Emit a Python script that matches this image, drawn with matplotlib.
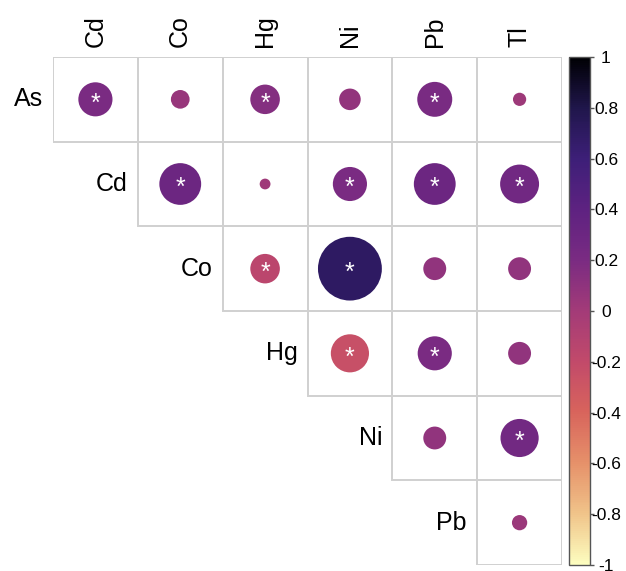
import numpy as np
import matplotlib
matplotlib.use("Agg")
import matplotlib.pyplot as plt
from matplotlib.patches import Circle, Rectangle
from matplotlib.colors import Normalize, LinearSegmentedColormap
from matplotlib.cm import ScalarMappable

plt.rcParams["font.family"] = ["Liberation Sans", "DejaVu Sans"]

# ── data ─────────────────────────────────────────────────────────────────────
row_labels = ["As", "Cd", "Co", "Hg", "Ni", "Pb"]
col_labels = ["Cd", "Co", "Hg", "Ni", "Pb", "Tl"]

# upper triangle, row i holds columns i..5
r_as = [0.20, 0.06, 0.15, 0.08, 0.21, 0.03]
r_cd = [0.30, 0.02, 0.20, 0.30, 0.26]
r_co = [-0.15, 0.70, 0.09, 0.09]
r_hg = [-0.25, 0.20, 0.09]
r_ni = [0.09, 0.25]
r_pb = [0.04]

sig_as = [1, 0, 1, 0, 1, 0]
sig_cd = [1, 0, 1, 1, 1]
sig_co = [1, 1, 0, 0]
sig_hg = [1, 1, 0]
sig_ni = [0, 1]
sig_pb = [0]

rows = [r_as, r_cd, r_co, r_hg, r_ni, r_pb]
sigs = [sig_as, sig_cd, sig_co, sig_hg, sig_ni, sig_pb]

cbar_ticks = [1, 0.8, 0.6, 0.4, 0.2, 0, -0.2, -0.4, -0.6, -0.8, -1]
cbar_tick_labels = ["1", "0.8", "0.6", "0.4", "0.2", "0", "-0.2", "-0.4", "-0.6", "-0.8", "-1"]

# muted magma, light at -1 and black at +1
palette = ["#fcfdbf", "#f0c389", "#e6916a", "#d8645c", "#c24a6a", "#a33b78",
           "#7a2b82", "#5e2281", "#3d1f78", "#20164c", "#000004"]

# ── figure ───────────────────────────────────────────────────────────────────
W, H = 626, 571
fig = plt.figure(figsize=(W / 100, H / 100), dpi=100)
ax = fig.add_axes([53 / W, 1 - 565 / H, 509 / W, 508 / H])
ax.set_xlim(0, 6)
ax.set_ylim(6, 0)
ax.axis("off")

cmap = LinearSegmentedColormap.from_list("muted_magma", palette)
norm = Normalize(vmin=-1, vmax=1)
grid_color = "#d0d0d0"

for i, (vals, flags) in enumerate(zip(rows, sigs)):
    for k, (v, s) in enumerate(zip(vals, flags)):
        j = i + k
        ax.add_patch(Rectangle((j, i), 1, 1, fill=False, ec=grid_color, lw=1.4, zorder=1))
        rad = 0.45 * np.sqrt(abs(v))
        ax.add_patch(Circle((j + 0.5, i + 0.5), rad, fc=cmap(norm(v)), ec="none", zorder=2))
        if s:
            ax.text(j + 0.5, i + 0.55, "*", color="white", fontsize=18,
                    ha="center", va="center", zorder=3)
    # row label sits just left of the first cell in the row
    ax.text(i - 0.12, i + 0.5, row_labels[i], fontsize=18, ha="right", va="center")

for j, lab in enumerate(col_labels):
    ax.text(j + 0.5, -0.12, lab, fontsize=18, rotation=90, ha="center", va="bottom")

# ── colour bar ───────────────────────────────────────────────────────────────
cax = fig.add_axes([569 / W, 1 - 565 / H, 21 / W, 508 / H])
sm = ScalarMappable(norm=norm, cmap=cmap)
cb = fig.colorbar(sm, cax=cax, ticks=cbar_ticks)
cb.set_ticklabels(cbar_tick_labels)
cb.outline.set_edgecolor("#555555")
cb.outline.set_linewidth(1.0)
cax.tick_params(length=3, width=1, color="#555555", labelsize=12.5, pad=8.5)
for t in cax.get_yticklabels():
    t.set_horizontalalignment("center")

fig.savefig("out.png", dpi=100, facecolor="white")
